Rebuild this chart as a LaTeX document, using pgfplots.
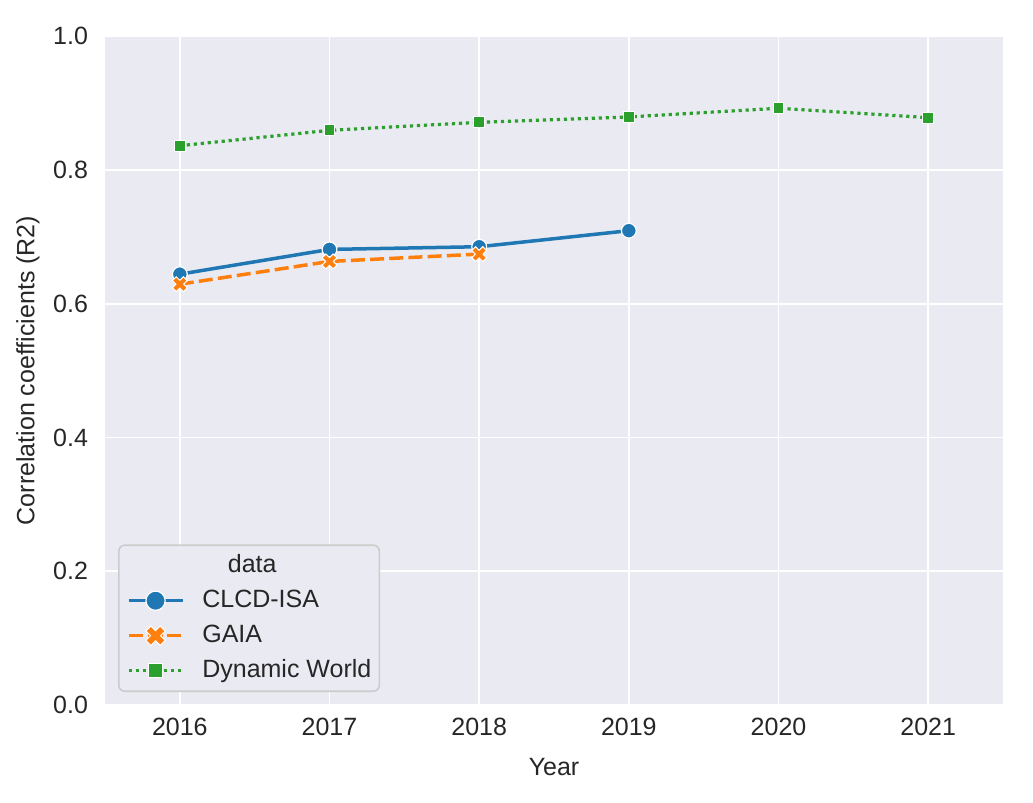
\documentclass[border=0pt]{standalone}
\usepackage{pgfplots}
\pgfplotsset{compat=1.18}
\usepackage{fontspec}
\setmainfont{Liberation Sans}

\definecolor{sbbg}{HTML}{EAEAF2}
\definecolor{sbtext}{HTML}{262626}
\definecolor{tabblue}{HTML}{1F77B4}
\definecolor{taborange}{HTML}{FF7F0E}
\definecolor{tabgreen}{HTML}{2CA02C}

% filled "X" marker like matplotlib's 'X'
\pgfdeclareplotmark{fatx}{%
  \pgftransformrotate{45}%
  \pgfpathmoveto{\pgfqpoint{0.35\pgfplotmarksize}{\pgfplotmarksize}}%
  \pgfpathlineto{\pgfqpoint{0.35\pgfplotmarksize}{0.35\pgfplotmarksize}}%
  \pgfpathlineto{\pgfqpoint{\pgfplotmarksize}{0.35\pgfplotmarksize}}%
  \pgfpathlineto{\pgfqpoint{\pgfplotmarksize}{-0.35\pgfplotmarksize}}%
  \pgfpathlineto{\pgfqpoint{0.35\pgfplotmarksize}{-0.35\pgfplotmarksize}}%
  \pgfpathlineto{\pgfqpoint{0.35\pgfplotmarksize}{-\pgfplotmarksize}}%
  \pgfpathlineto{\pgfqpoint{-0.35\pgfplotmarksize}{-\pgfplotmarksize}}%
  \pgfpathlineto{\pgfqpoint{-0.35\pgfplotmarksize}{-0.35\pgfplotmarksize}}%
  \pgfpathlineto{\pgfqpoint{-\pgfplotmarksize}{-0.35\pgfplotmarksize}}%
  \pgfpathlineto{\pgfqpoint{-\pgfplotmarksize}{0.35\pgfplotmarksize}}%
  \pgfpathlineto{\pgfqpoint{-0.35\pgfplotmarksize}{0.35\pgfplotmarksize}}%
  \pgfpathlineto{\pgfqpoint{-0.35\pgfplotmarksize}{\pgfplotmarksize}}%
  \pgfpathclose
  \pgfusepathqfillstroke
}

\newcommand{\lblfont}{\fontsize{12.5}{15}\selectfont}

\begin{document}
\begin{tikzpicture}
\begin{axis}[
  name=ax,
  scale only axis,
  width=449pt, height=334.5pt,
  xmin=2015.5, xmax=2021.5,
  ymin=0, ymax=1,
  xtick={2016,2017,2018,2019,2020,2021},
  ytick={0,0.2,0.4,0.6,0.8,1.0},
  /pgf/number format/1000 sep={},
  /pgf/number format/assume math mode=true,
  yticklabel style={/pgf/number format/fixed, /pgf/number format/fixed zerofill,
    /pgf/number format/precision=1, xshift=-5pt},
  xticklabel style={yshift=-3pt},
  tick label style={font=\lblfont, text=sbtext},
  major tick length=0pt,
  axis line style={draw=none},
  axis background/.style={fill=sbbg},
  grid=major,
  major grid style={white, line width=0.9pt},
  xlabel={Year},
  ylabel={Correlation coefficients (R2)},
  every axis x label/.style={at={(rel axis cs:0.5,0)}, yshift=-31pt, anchor=center,
    font=\lblfont, text=sbtext},
  every axis y label/.style={at={(rel axis cs:0,0.5)}, xshift=-38.5pt, rotate=90,
    anchor=center, font=\lblfont, text=sbtext},
  legend style={at={(rel axis cs:0,0)}, anchor=south west, xshift=6.5pt, yshift=6.5pt,
    fill=sbbg, draw=black!20, line width=0.8pt, rounded corners=3pt,
    font=\lblfont, text=sbtext,
    inner xsep=4pt, inner ysep=4.5pt,
    row sep=6pt, column sep=9pt,
    nodes={inner sep=0pt, text height=9pt, text depth=2.5pt}},
  legend cell align=left,
  legend image code/.code={%
    \draw[mark repeat=2, mark phase=2, #1, every mark/.append style={scale=1.3}]
      plot coordinates {(0pt,0pt) (13.5pt,0pt) (27pt,0pt)};},
]
\addlegendimage{empty legend}
\addlegendentry{\hspace*{12.8pt}data}

\addplot[tabblue, line width=1.75pt, mark=*, mark size=3.7pt,
  mark options={solid, fill=tabblue, draw=white, line width=0.6pt}]
  coordinates {(2016,0.644) (2017,0.681) (2018,0.685) (2019,0.709)};
\addlegendentry{CLCD-ISA}

\addplot[taborange, line width=1.75pt, dash pattern=on 7pt off 2.6pt,
  mark=fatx, mark size=3.9pt,
  mark options={solid, fill=taborange, draw=white, line width=0.5pt}]
  coordinates {(2016,0.629) (2017,0.663) (2018,0.674)};
\addlegendentry{GAIA}

\addplot[tabgreen, line width=1.6pt, dash pattern=on 1.6pt off 1.9pt,
  mark=square*, mark size=2.7pt,
  mark options={solid, fill=tabgreen, draw=white, line width=0.5pt}]
  coordinates {(2016,0.836) (2017,0.859) (2018,0.871) (2019,0.879) (2020,0.892) (2021,0.878)};
\addlegendentry{Dynamic World}
\end{axis}
\pgfresetboundingbox
\path[use as bounding box] ([xshift=-52.5pt,yshift=-48.5pt]ax.south west)
  rectangle ([xshift=15pt,yshift=18pt]ax.north east);
\end{tikzpicture}
\end{document}
